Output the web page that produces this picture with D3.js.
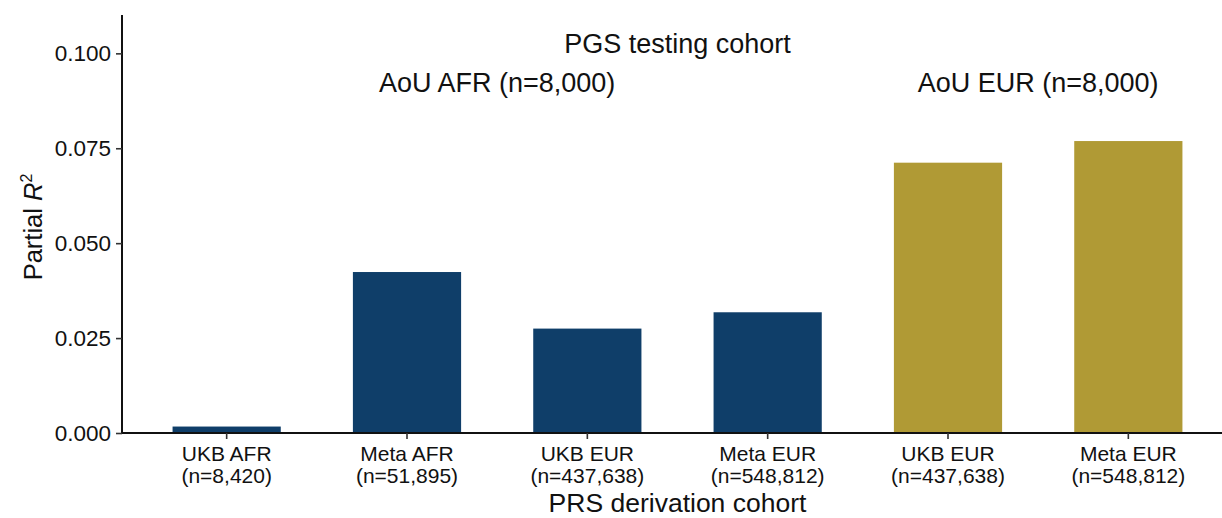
<!DOCTYPE html>
<html>
<head>
<meta charset="utf-8">
<script src="https://cdn.jsdelivr.net/npm/d3@7"></script>
<style>
  html, body { margin: 0; padding: 0; background: #fff; }
  svg text { font-family: "Liberation Sans", Arial, Helvetica, sans-serif; fill: #111; }
</style>
</head>
<body>
<div id="chart"></div>
<script>
// Data
var cohorts = ['UKB AFR', 'Meta AFR', 'UKB EUR', 'Meta EUR', 'UKB EUR', 'Meta EUR'];
var sampleSizes = ['(n=8,420)', '(n=51,895)', '(n=437,638)', '(n=548,812)', '(n=437,638)', '(n=548,812)'];
var testGroup = ['AFR', 'AFR', 'AFR', 'AFR', 'EUR', 'EUR'];
var partialR2 = [0.0017, 0.0424, 0.0275, 0.0318, 0.0712, 0.0769];
var yTicks = [0, 0.025, 0.05, 0.075, 0.1];
var groupLabels = ['AoU AFR (n=8,000)', 'AoU EUR (n=8,000)'];

var colors = { AFR: '#0f3e69', EUR: '#b09a35' };

function drawChart() {
    var svgWidth = 1222;
    var svgHeight = 518;

    var margin = { top: 15, right: 0, bottom: 85, left: 122 };
    var chartWidth = svgWidth - margin.left - margin.right;
    var chartHeight = svgHeight - margin.top - margin.bottom;

    var svg = d3.select('#chart')
        .append('svg')
        .attr('width', svgWidth)
        .attr('height', svgHeight);

    var chartGroup = svg.append('g')
        .attr('transform', `translate(${margin.left}, ${margin.top})`);

    var idx = d3.range(cohorts.length);

    // discrete x: bars take 0.6 of each step, plot is cut at the right edge
    var xScale = d3.scaleBand()
        .domain(idx)
        .range([14.5, 1096.5])
        .paddingInner(0.4)
        .paddingOuter(0.2);

    var yScale = d3.scaleLinear()
        .domain([0, 0.1101])
        .range([chartHeight, 0]);

    // bars
    chartGroup.selectAll('rect.bar')
        .data(idx)
        .enter()
        .append('rect')
        .attr('class', 'bar')
        .attr('x', i => xScale(i))
        .attr('width', xScale.bandwidth())
        .attr('y', i => yScale(partialR2[i]))
        .attr('height', i => chartHeight - yScale(partialR2[i]))
        .attr('fill', i => colors[testGroup[i]]);

    // y axis
    var yAxis = d3.axisLeft(yScale)
        .tickValues(yTicks)
        .tickFormat(d3.format('.3f'))
        .tickSize(6)
        .tickPadding(5);

    var yAxisG = chartGroup.append('g').call(yAxis);
    yAxisG.select('.domain').attr('d', `M0,0V${chartHeight}`);

    // x axis
    var xAxis = d3.axisBottom(xScale)
        .tickFormat('')
        .tickSize(6);

    var xAxisG = chartGroup.append('g')
        .attr('transform', `translate(0, ${chartHeight})`)
        .call(xAxis);
    xAxisG.select('.domain').attr('d', `M0,0H${chartWidth}`);

    [yAxisG, xAxisG].forEach(function(g) {
        g.select('.domain').attr('stroke', '#111').attr('stroke-width', 2);
        g.selectAll('.tick line').attr('stroke', '#333').attr('stroke-width', 1.6);
    });
    yAxisG.selectAll('.tick text')
        .attr('font-size', 22.5)
        .style('fill', '#111');

    // two-line x tick labels
    xAxisG.selectAll('.tick').each(function(i) {
        var t = d3.select(this).select('text')
            .attr('y', 0)
            .attr('dy', 0)
            .attr('font-size', 21)
            .style('fill', '#111');
        t.append('tspan').attr('x', 0).attr('y', 28).text(cohorts[i]);
        t.append('tspan').attr('x', 0).attr('y', 50).text(sampleSizes[i]);
    });

    // testing cohort labels above the bars
    var center = function(i) { return xScale(i) + xScale.bandwidth() / 2; };
    var groupCenters = [
        (center(0) + center(3)) / 2,
        (center(4) + center(5)) / 2
    ];

    chartGroup.append('text')
        .attr('x', (center(0) + center(5)) / 2)
        .attr('y', yScale(0.1))
        .attr('text-anchor', 'middle')
        .attr('font-size', 27)
        .text('PGS testing cohort');

    chartGroup.selectAll('text.group')
        .data(groupLabels)
        .enter()
        .append('text')
        .attr('class', 'group')
        .attr('x', (d, i) => groupCenters[i])
        .attr('y', yScale(0.0897))
        .attr('text-anchor', 'middle')
        .attr('font-size', 27)
        .text(d => d);

    // axis titles
    svg.append('text')
        .attr('x', margin.left + (center(0) + center(5)) / 2)
        .attr('y', 512)
        .attr('text-anchor', 'middle')
        .attr('font-size', 26.5)
        .text('PRS derivation cohort');

    var yTitle = svg.append('text')
        .attr('transform', `translate(42, ${margin.top + chartHeight / 2 + 3}) rotate(-90)`)
        .attr('text-anchor', 'middle')
        .attr('font-size', 25.5);
    yTitle.append('tspan').text('Partial ');
    yTitle.append('tspan').attr('font-style', 'italic').text('R');
    yTitle.append('tspan').attr('font-size', 16).attr('dy', '-0.65em').text('2');
}

drawChart();
</script>
</body>
</html>
